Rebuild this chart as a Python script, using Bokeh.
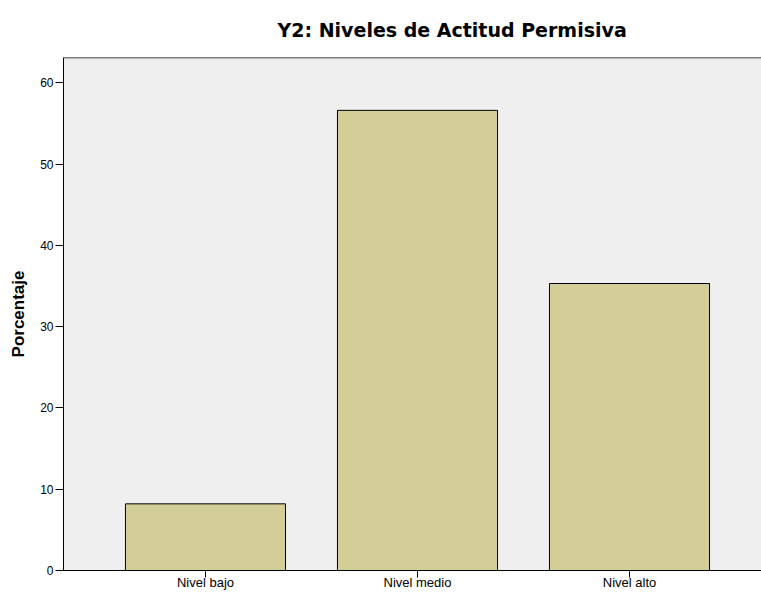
from bokeh.plotting import figure
from bokeh.models import FixedTicker, Span, ColumnDataSource
from bokeh.embed import file_html
from bokeh.resources import INLINE

categories = ["Nivel bajo", "Nivel medio", "Nivel alto"]
porcentaje = [8.2, 56.6, 35.3]
positions = [1, 2, 3]
y_ticks = [0, 10, 20, 30, 40, 50, 60]

src = ColumnDataSource(dict(x=positions, top=porcentaje, cat=categories))

p = figure(width=761, height=592, output_backend="svg", toolbar_location=None,
           x_range=(0.3302, 3.6226), y_range=(0, 63.1),
           min_border_left=63, min_border_top=57, min_border_right=0, min_border_bottom=0)

p.title.text = "Y2: Niveles de Actitud Permisiva"
p.title.text_font = "DejaVu Sans"
p.title.text_font_style = "bold"
p.title.text_font_size = "19px"
p.title.align = "left"
p.title.offset = 214
p.title.standoff = 33
p.title.text_color = "black"

p.background_fill_color = "#efefef"
p.border_fill_color = "white"
p.outline_line_color = None
p.grid.visible = False

p.vbar(x="x", top="top", width=0.755, source=src, fill_color="#d3ce97",
       line_color="black", line_width=1)

p.add_layout(Span(location=63.1, dimension="width", line_color="black", line_width=1.5))

p.xaxis.ticker = FixedTicker(ticks=positions)
p.xaxis.major_label_overrides = {pos: c for pos, c in zip(positions, categories)}
p.xaxis.minor_tick_line_color = None
p.xaxis.major_tick_out = 7
p.xaxis.major_tick_in = 0
p.xaxis.major_label_standoff = -3
p.xaxis.major_label_text_font = "Liberation Sans"
p.xaxis.major_label_text_font_size = "13px"
p.xaxis.major_label_text_color = "black"
p.xaxis.axis_line_color = "black"
p.xaxis.major_tick_line_color = "black"

p.yaxis.ticker = FixedTicker(ticks=y_ticks)
p.yaxis.minor_tick_line_color = None
p.yaxis.major_tick_out = 8
p.yaxis.major_tick_in = 0
p.yaxis.major_label_standoff = 2
p.yaxis.major_label_text_font = "Liberation Sans"
p.yaxis.major_label_text_font_size = "12px"
p.yaxis.major_label_text_color = "black"
p.yaxis.axis_label = "Porcentaje"
p.yaxis.axis_label_text_font = "Liberation Sans"
p.yaxis.axis_label_text_font_style = "bold"
p.yaxis.axis_label_text_font_size = "17px"
p.yaxis.axis_label_text_color = "black"
p.yaxis.axis_label_standoff = 9
p.yaxis.axis_line_color = "black"
p.yaxis.major_tick_line_color = "black"

open("out.html", "w").write(file_html(p, INLINE))
